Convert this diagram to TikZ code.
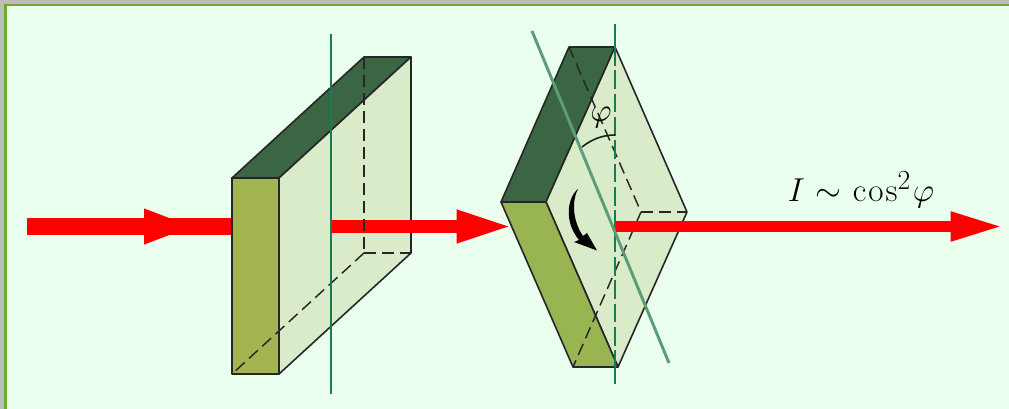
\documentclass[tikz,border=0pt]{standalone}
\usepackage{xcolor}
\usepackage{amsmath,amssymb}
\usetikzlibrary{arrows.meta,positioning}
\definecolor{paneBg}{HTML}{EBFFEE}
\definecolor{paneEdge}{HTML}{6FA82E}
\definecolor{pageGrey}{HTML}{BDBDBD}
\definecolor{faceDark}{HTML}{3A6644}
\definecolor{faceOlive}{HTML}{A3B551}
\definecolor{faceGrass}{HTML}{98B552}
\definecolor{faceLight}{HTML}{D9EBC9}
\definecolor{axisGreen}{HTML}{1B7A52}
\definecolor{axisTilt}{HTML}{5C9C78}
\begin{document}
\begin{tikzpicture}[
    x=0.75pt, y=-0.75pt,
    every node/.style={inner sep=0pt},
    edge/.style={draw=black!85, line width=1.2pt, line join=round},
    hidden/.style={black!85, line width=1.1pt, dash pattern=on 9pt off 4.5pt},
    beam/.style={red, line width=#1},
    beamhead/.style n args={2}{-{Triangle[length=#1, width=#2]}},
    axisline/.style={axisGreen, line width=1.5pt},
]
\useasboundingbox (0,0) rectangle (1009,409);
\fill[pageGrey] (0,0) rectangle (1009,409);
\fill[paneEdge] (4,4) rectangle (1009,409);
\fill[paneBg] (6.5,6.5) rectangle (1009,409);

% first plate
\coordinate (fa) at (232,178);
\coordinate (fb) at (279,178);
\coordinate (fc) at (279,374);
\coordinate (fd) at (232,374);
\coordinate (ba) at (364,57);
\coordinate (bb) at (411,57);
\coordinate (bc) at (411,253);
\coordinate (bd) at (364,253);
\coordinate (beamIn) at (27,226.5);
\coordinate (beamInHead) at (192,226.5);
\coordinate (beamInEnd) at (232,226.5);
\coordinate (beamMid) at (331,226.5);
\coordinate (beamMidEnd) at (514,226.5);

\draw[beam=12.5pt] (beamIn) -- (beamInEnd);
\draw[beam=4pt, beamhead={36pt}{26pt}] (beamIn) -- (beamInHead);
\path[edge, fill=faceDark] (fa) -- (ba) -- (bb) -- (fb) -- cycle;
\path[edge, fill=faceLight] (fb) -- (bb) -- (bc) -- (fc) -- cycle;
\path[edge, fill=faceOlive] (fa) -- (fb) -- (fc) -- (fd) -- cycle;
\draw[beam=10pt, beamhead={43pt}{22pt}] (beamMid) -- (beamMidEnd);
\draw[hidden] (ba) -- (bd);
\draw[hidden] (bd) -- (bc);
\draw[hidden] (bd) -- (fd);
\coordinate (axisTop) at (331,34);
\coordinate (axisBot) at (331,394);
\draw[axisline] (axisTop) -- (axisBot);

% second plate, turned
\coordinate (ga) at (501,202);
\coordinate (gb) at (546,202);
\coordinate (gc) at (569,47);
\coordinate (gd) at (615,47);
\coordinate (ge) at (687,212);
\coordinate (gf) at (618,367);
\coordinate (gg) at (573,367);
\coordinate (gh) at (641,212);
\path[edge, fill=faceDark] (ga) -- (gc) -- (gd) -- (gb) -- cycle;
\path[edge, fill=faceLight] (gb) -- (gd) -- (ge) -- (gf) -- cycle;
\path[edge, fill=faceGrass] (ga) -- (gb) -- (gf) -- (gg) -- cycle;
\draw[hidden] (gc) -- (gh);
\draw[hidden] (gh) -- (ge);
\draw[hidden] (gh) -- (gg);

\coordinate (beamOut) at (615,226.5);
\coordinate (beamOutEnd) at (1004,226.5);
\draw[beam=8.5pt, beamhead={40pt}{20pt}] (beamOut) -- (beamOutEnd);

\coordinate (turnTop) at (615,24);
\coordinate (turnIn) at (615,47);
\coordinate (turnOut) at (615,367);
\coordinate (turnBot) at (615,384);
\draw[axisline] (turnTop) -- (turnIn);
\draw[axisline, dash pattern=on 14pt off 3.5pt] (turnIn) -- (turnOut);
\draw[axisline] (turnOut) -- (turnBot);
\coordinate (tiltTop) at (532,31);
\coordinate (tiltBot) at (669,363);
\draw[axisTilt, line width=2.2pt] (tiltTop) -- (tiltBot);

% angle and turning arrow
\coordinate (arcA) at (582,147);
\coordinate (arcB) at (615,135);
\draw[black!65!faceDark, line width=1.2pt] (arcA) .. controls (592,139) and (603,135) .. (arcB);
\node[font=\Huge] (phi) at (601,118) {$\varphi$};
\fill[black] (578,189) .. controls (567,198) and (564,222) .. (579,240)
    -- (574,242) -- (597,250.5) -- (587,233) -- (583,236)
    .. controls (572,220) and (572,200) .. (578,189) -- cycle;

\node[font=\Huge, anchor=base] (law) at (861,202) {$I\kern1.5pt\sim\kern1.5pt\mathrm{c\kern1.5pt o\kern1.5pt s}^{2}\kern1.5pt\varphi$};
\end{tikzpicture}
\end{document}
